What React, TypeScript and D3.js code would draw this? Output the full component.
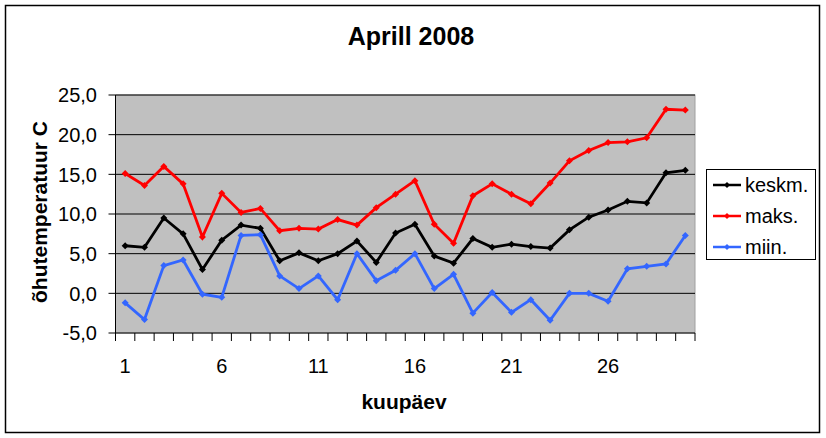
import React from "react";
import * as d3 from "d3";

const days: number[] = Array.from({ length: 30 }, (_, i) => i + 1);
const keskm: number[] = [6.0, 5.8, 9.5, 7.5, 3.0, 6.7, 8.6, 8.2, 4.1, 5.1, 4.1, 5.0, 6.6, 3.9, 7.6, 8.7, 4.7, 3.8, 6.9, 5.8, 6.2, 5.9, 5.7, 8.0, 9.6, 10.5, 11.6, 11.4, 15.2, 15.5];
const maks: number[] = [15.1, 13.6, 16.0, 13.8, 7.1, 12.6, 10.2, 10.7, 7.9, 8.2, 8.1, 9.3, 8.6, 10.8, 12.5, 14.2, 8.7, 6.3, 12.3, 13.8, 12.5, 11.3, 13.9, 16.7, 18.0, 19.0, 19.1, 19.6, 23.2, 23.1];
const miin: number[] = [-1.2, -3.3, 3.5, 4.2, -0.1, -0.5, 7.3, 7.4, 2.2, 0.6, 2.2, -0.8, 5.0, 1.6, 2.9, 5.0, 0.6, 2.4, -2.5, 0.1, -2.4, -0.8, -3.4, 0.0, 0.0, -1.0, 3.1, 3.4, 3.7, 7.3];
const yTicks: number[] = [-5, 0, 5, 10, 15, 20, 25];
const xLabelDays: number[] = [1, 6, 11, 16, 21, 26];

const seriesList = [
  { name: "keskm.", values: keskm, color: "#000000" },
  { name: "maks.", values: maks, color: "#ff0000" },
  { name: "miin.", values: miin, color: "#3366ff" },
];

const W = 826;
const H = 438;
const plot = { left: 115.5, right: 695, top: 95, bottom: 333 };

export default function App() {
  const x = d3
    .scaleBand<number>()
    .domain(days)
    .range([plot.left, plot.right])
    .padding(0);
  const y = d3.scaleLinear().domain([-5, 25]).range([plot.bottom, plot.top]);
  const cx = (d: number) => (x(d) as number) + x.bandwidth() / 2;
  const line = d3
    .line<number>()
    .x((_, i) => cx(days[i]))
    .y((v) => y(v));
  const fmt = (v: number) => v.toFixed(1).replace(".", ",");
  const font = "Arial, 'Liberation Sans', sans-serif";
  const diamond = (px: number, py: number, s: number) =>
    `M${px},${py - s}L${px + s},${py}L${px},${py + s}L${px - s},${py}Z`;

  const legendItems = seriesList.map((s, i) => ({ ...s, ly: 185 + i * 31 }));

  return (
    <svg
      width={W}
      height={H}
      style={{ position: "absolute", left: 0, top: 0, background: "#fff" }}
      fontFamily={font}
    >
      <rect x={0} y={0} width={W} height={H} fill="#fff" />
      <rect x={5.5} y={5.5} width={814} height={427} fill="#fff" stroke="#000" strokeWidth={1.5} />
      <text x={411} y={45} textAnchor="middle" fontSize={25} fontWeight="bold">
        Aprill 2008
      </text>
      <rect
        x={plot.left}
        y={plot.top}
        width={plot.right - plot.left}
        height={plot.bottom - plot.top}
        fill="#c0c0c0"
        stroke="#a0a0a0"
        strokeWidth={1}
      />
      {yTicks.map((t) => (
        <g key={t}>
          {t > -5 && (
            <line x1={plot.left} x2={plot.right} y1={y(t)} y2={y(t)} stroke="#000" strokeWidth={1} />
          )}
          <line x1={plot.left - 7} x2={plot.left} y1={y(t)} y2={y(t)} stroke="#000" strokeWidth={1} />
          <text x={97} y={y(t)} dy="0.36em" textAnchor="end" fontSize={20}>
            {fmt(t)}
          </text>
        </g>
      ))}
      <line x1={plot.left} x2={plot.left} y1={plot.top} y2={plot.bottom} stroke="#000" strokeWidth={1} />
      <line x1={plot.left} x2={plot.right} y1={plot.bottom} y2={plot.bottom} stroke="#000" strokeWidth={1} />
      {[...days, 31].map((d, i) => {
        const px = plot.left + i * x.bandwidth();
        return <line key={d} x1={px} x2={px} y1={plot.bottom} y2={plot.bottom + 8} stroke="#000" strokeWidth={1} />;
      })}
      {xLabelDays.map((d) => (
        <text key={d} x={cx(d)} y={372.5} textAnchor="middle" fontSize={20}>
          {d}
        </text>
      ))}
      {seriesList.map((s) => (
        <g key={s.name}>
          <path d={line(s.values) || ""} fill="none" stroke={s.color} strokeWidth={2.8} strokeLinejoin="miter" />
          {s.values.map((v, i) => (
            <path key={i} d={diamond(cx(days[i]), y(v), 3.5)} fill={s.color} />
          ))}
        </g>
      ))}
      <text x={404} y={409} textAnchor="middle" fontSize={21} fontWeight="bold">
        kuupäev
      </text>
      <text
        transform="translate(47,212) rotate(-90)"
        textAnchor="middle"
        fontSize={21}
        fontWeight="bold"
      >
        õhutemperatuur C
      </text>
      <rect x={706.5} y={169.5} width={109} height={90} fill="#fff" stroke="#000" strokeWidth={1} />
      {legendItems.map((s) => (
        <g key={s.name}>
          <line x1={713} x2={741} y1={s.ly} y2={s.ly} stroke={s.color} strokeWidth={2.5} />
          <path d={diamond(727, s.ly, 3)} fill={s.color} />
          <text x={745} y={s.ly} dy="0.36em" fontSize={20}>
            {s.name}
          </text>
        </g>
      ))}
    </svg>
  );
}
